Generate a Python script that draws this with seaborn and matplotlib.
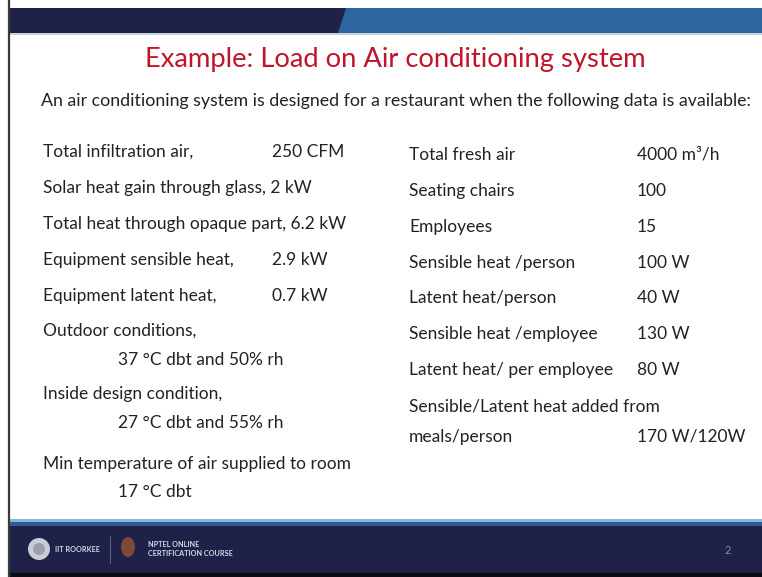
import matplotlib
matplotlib.use("Agg")
import matplotlib.pyplot as plt
import matplotlib.patches as mpatches
import seaborn as sns

# slide content
title = "Example: Load on Air conditioning system"
subtitle = "An air conditioning system is designed for a restaurant when the following data is available:"

left_labels = [
    "Total infiltration air,",
    "Solar heat gain through glass, 2 kW",
    "Total heat through opaque part, 6.2 kW",
    "Equipment sensible heat,",
    "Equipment latent heat,",
    "Outdoor conditions,",
    "37 \u00b0C dbt and 50% rh",
    "Inside design condition,",
    "27 \u00b0C dbt and 55% rh",
    "Min temperature of air supplied to room",
    "17 \u00b0C dbt",
]
left_values = ["250 CFM", "", "", "2.9 kW", "0.7 kW", "", "", "", "", "", ""]
left_indent = [False, False, False, False, False, False, True, False, True, False, True]

right_labels = [
    "Total fresh air",
    "Seating chairs",
    "Employees",
    "Sensible heat /person",
    "Latent heat/person",
    "Sensible heat /employee",
    "Latent heat/ per employee",
    "Sensible/Latent heat added from",
    "meals/person",
]
right_values = ["4000 m\u00b3/h", "100", "15", "100 W", "40 W", "130 W", "80 W", "", "170 W/120W"]

footer_left = "IIT ROORKEE"
footer_mid = "NPTEL ONLINE\nCERTIFICATION COURSE"
page_no = "2"

sns.set_theme(style="white")
plt.rcParams["font.family"] = ["Lato", "DejaVu Sans"]

fig = plt.figure(figsize=(7.62, 5.77), dpi=100)
ax = fig.add_axes([0, 0, 1, 1])
ax.set_xlim(0, 762)
ax.set_ylim(577, 0)
ax.axis("off")

navy = "#1f2148"
blue = "#2b679e"
text_col = "#222222"

# header band
ax.add_patch(mpatches.Rectangle((9, 8), 753, 25, color=navy, lw=0))
ax.add_patch(mpatches.Polygon([(338, 33), (346, 8), (762, 8), (762, 33)], closed=True, color=blue, lw=0))
ax.add_patch(mpatches.Rectangle((9, 33), 753, 2, color="#c9d3e0", lw=0))

# left frame line
ax.plot([8.5, 8.5], [0, 577], color="#3a3a3a", lw=1.6)

# footer band
ax.add_patch(mpatches.Rectangle((9, 519), 753, 3, color="#86b8dc", lw=0))
ax.add_patch(mpatches.Rectangle((9, 522), 753, 4, color="#2f5d93", lw=0))
ax.add_patch(mpatches.Rectangle((9, 526), 753, 47, color=navy, lw=0))
ax.add_patch(mpatches.Rectangle((9, 573), 753, 4, color="#0c0c14", lw=0))

# footer logos and text
ax.add_patch(mpatches.Circle((39, 549), 11, color="#c9cdd8", lw=0))
ax.add_patch(mpatches.Circle((39, 549), 6, color="#9aa0b0", lw=0))
ax.text(55, 549, footer_left, color="#d8dbe6", fontsize=5.2, va="center", ha="left", fontweight="bold")
ax.plot([110, 110], [536, 563], color="#5a5f80", lw=0.8)
ax.add_patch(mpatches.Ellipse((128, 547), 14, 20, color="#7a4a3a", lw=0))
ax.text(148, 549, footer_mid, color="#d8dbe6", fontsize=5.2, va="center", ha="left",
        linespacing=1.2, fontweight="bold")
ax.text(728, 550, page_no, color="#8a8fa8", fontsize=8, va="center", ha="center")

# title and subtitle
ax.text(395, 59, title, color="#c0142c", fontsize=19.7, ha="center", va="center")
ax.text(396, 101, subtitle, color=text_col, fontsize=12.75, ha="center", va="center")

# left column
left_y = [152, 188, 224, 260, 296, 331, 360, 394, 423, 464, 492]
for lab, val, ind, y in zip(left_labels, left_values, left_indent, left_y):
    ax.text(118 if ind else 43, y, lab, color=text_col, fontsize=12.5, ha="left", va="center")
    if val:
        ax.text(272, y, val, color=text_col, fontsize=12.5, ha="left", va="center")

# right column
right_y = [155, 191, 227, 263, 298, 334, 370, 406, 437]
for lab, val, y in zip(right_labels, right_values, right_y):
    ax.text(409, y, lab, color=text_col, fontsize=12.5, ha="left", va="center")
    if val:
        ax.text(637, y, val, color=text_col, fontsize=12.5, ha="left", va="center")

fig.savefig("out.png", dpi=100)
